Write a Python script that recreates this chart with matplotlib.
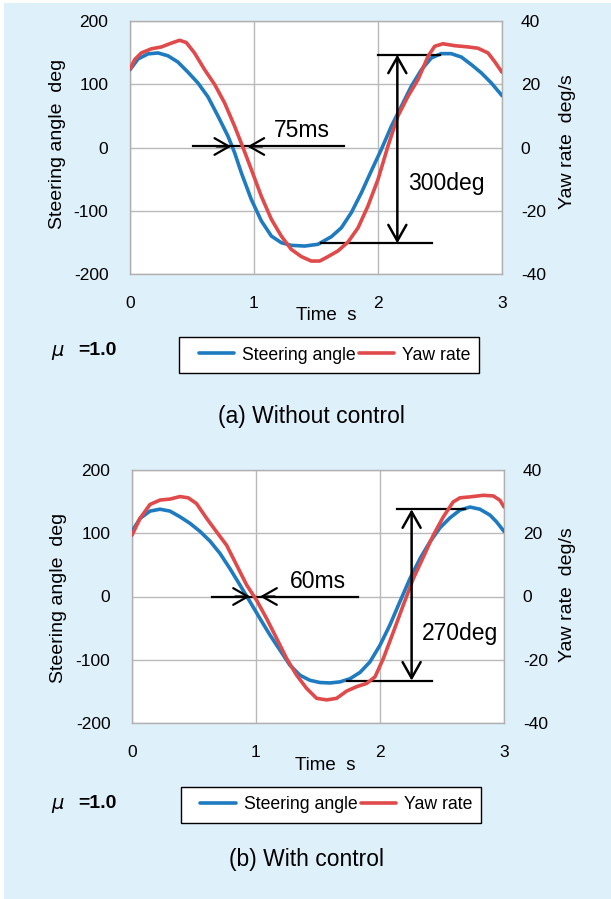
import matplotlib
matplotlib.use("Agg")
import matplotlib.pyplot as plt
from matplotlib.patches import Rectangle

plt.rcParams["font.family"] = ["Liberation Sans", "DejaVu Sans"]
plt.rcParams["axes.unicode_minus"] = False

# ---------------- data ----------------
# (a) Without control
time_a_steer = [0.0, 0.065, 0.145, 0.226, 0.306, 0.387, 0.468, 0.548, 0.629, 0.71, 0.79,
                0.844, 0.898, 0.978, 1.059, 1.14, 1.22, 1.30, 1.41, 1.516, 1.624, 1.704,
                1.785, 1.866, 1.946, 2.027, 2.108, 2.188, 2.269, 2.35, 2.43, 2.51, 2.59,
                2.672, 2.753, 2.833, 2.914, 3.0]
steer_a = [123, 140, 148, 149.5, 145, 135, 119, 102, 80, 49.5, 18,
           -8.4, -40, -82, -116, -140, -150.5, -154.7, -155.8, -153, -141, -127,
           -103, -71.6, -37, -3, 33.7, 65, 97, 123, 141.6, 148.4, 148.4,
           143, 131, 118, 102, 82]

time_a_yaw = [0.0, 0.038, 0.091, 0.172, 0.253, 0.333, 0.40, 0.454, 0.52, 0.602, 0.683,
              0.763, 0.844, 0.911, 0.978, 1.059, 1.14, 1.22, 1.30, 1.382, 1.462, 1.53,
              1.597, 1.677, 1.758, 1.839, 1.919, 2.0, 2.08, 2.16, 2.242, 2.323, 2.403,
              2.457, 2.524, 2.618, 2.726, 2.806, 2.887, 2.94, 3.0]
yaw_a = [24.8, 27.8, 29.9, 31.2, 31.8, 33.0, 33.9, 33.2, 29.9, 24.6, 19.9,
         14.1, 6.7, 0.0, -6.9, -15.4, -22.7, -28.0, -32.2, -34.5, -35.9, -35.9,
         -34.5, -32.7, -29.9, -25.4, -18.5, -10.1, 0.4, 9.9, 16.2, 21.5, 28.8,
         32.0, 32.8, 32.2, 31.8, 31.4, 29.9, 27.2, 23.8]

# (b) With control
time_b_steer = [0.0, 0.065, 0.145, 0.226, 0.306, 0.387, 0.468, 0.548, 0.629, 0.71, 0.79,
                0.871, 0.952, 1.032, 1.113, 1.194, 1.274, 1.355, 1.435, 1.516, 1.597,
                1.677, 1.758, 1.839, 1.919, 2.0, 2.08, 2.16, 2.242, 2.323, 2.403, 2.484,
                2.565, 2.645, 2.726, 2.806, 2.887, 2.94, 3.0]
steer_b = [103, 123.5, 135, 138, 135, 126, 115.6, 103, 87.6, 68, 44,
           18, -8.4, -34.8, -61, -85, -108.7, -124.5, -132.5, -136, -136.7,
           -135, -130, -120, -103.4, -77, -45, -8.4, 28.5, 60, 86.5, 108.7,
           124.5, 136.7, 141.4, 138, 128.7, 118, 103]

time_b_yaw = [0.0, 0.065, 0.145, 0.226, 0.306, 0.387, 0.454, 0.52, 0.602, 0.683, 0.763,
              0.844, 0.925, 1.005, 1.086, 1.167, 1.247, 1.328, 1.409, 1.489, 1.57, 1.65,
              1.731, 1.812, 1.892, 1.96, 2.027, 2.108, 2.188, 2.269, 2.35, 2.43, 2.511,
              2.59, 2.645, 2.726, 2.833, 2.914, 2.968, 3.0]
yaw_b = [19.4, 24.7, 29.1, 30.5, 30.8, 31.6, 31.2, 29.4, 24.7, 20.4, 16.2,
         9.9, 3.6, -1.2, -7.0, -13.3, -19.6, -24.9, -29.1, -32.2, -32.7, -32.2,
         -29.9, -28.5, -27.5, -25.4, -19.6, -11.2, -2.7, 5.7, 12.5, 19.4, 25.2,
         29.9, 31.2, 31.5, 32.0, 31.8, 30.4, 28.3]

# annotation values (time in s, steering angle in deg)
lag_a = dict(line=(0.508, 1.726), y=1.6, tips=(0.817, 0.946), text=(1.39, 26.8), label="75ms")
amp_a = dict(x=2.156, top=146.8, bottom=-151.6, top_span=(2.0, 2.497),
             bottom_span=(1.538, 2.435), text=(2.548, -57), label="300deg")
lag_b = dict(line=(0.642, 1.825), y=0.0, tips=(0.952, 1.032), text=(1.50, 24), label="60ms")
amp_b = dict(x=2.255, top=137.9, bottom=-133, top_span=(2.134, 2.685),
             bottom_span=(1.737, 2.417), text=(2.645, -59), label="270deg")

steer_ticks = [-200, -100, 0, 100, 200]
yaw_ticks = [-40, -20, 0, 20, 40]
time_ticks = [0, 1, 2, 3]

BLUE = "#1f7bc0"
RED = "#e04a4a"
BG = "#def0fa"
GRID = "#b9b9b9"

W, H = 611, 899
fig = plt.figure(figsize=(W / 100, H / 100), dpi=100, facecolor="white")
fig.patches.append(Rectangle((4 / W, 0), 1, 1 - 3 / H, transform=fig.transFigure,
                             facecolor=BG, edgecolor="none", zorder=-10))


def px(x, y):
    return x / W, 1 - y / H


def panel(rect, ts, steer, ty, yaw, lag, amp, caption, cap_xy, time_xy,
          ylab_l, ylab_r, mu_y, leg_box):
    ax = fig.add_axes(rect)
    ax.set_facecolor("white")
    ax.set_xlim(0, 3)
    ax.set_ylim(-200, 200)
    ax.set_xticks(time_ticks)
    ax.set_yticks(steer_ticks)
    ax.grid(True, color=GRID, lw=1.0)
    ax.set_axisbelow(True)
    for s in ax.spines.values():
        s.set_color("#b0b0b0")
        s.set_linewidth(1.0)
    ax.tick_params(axis="both", length=0, labelsize=12.5, colors="black")
    ax.tick_params(axis="x", pad=16)
    ax.tick_params(axis="y", pad=15.5)
    l1, = ax.plot(ts, steer, color=BLUE, lw=2.6, solid_capstyle="round",
                  solid_joinstyle="round", label="Steering angle", zorder=3)

    ax2 = ax.twinx()
    ax2.set_ylim(-40, 40)
    ax2.set_yticks(yaw_ticks)
    ax2.tick_params(axis="y", length=0, labelsize=12.5, pad=13.5)
    for s in ax2.spines.values():
        s.set_visible(False)
    l2, = ax2.plot(ty, yaw, color=RED, lw=2.6, solid_capstyle="round",
                   solid_joinstyle="round", label="Yaw rate", zorder=3)

    # time-lag marker
    kw = dict(color="black", lw=1.6)
    ax2.plot(lag["line"], [lag["y"], lag["y"]], transform=ax.transData, **kw)
    t_left, t_right = lag["tips"]
    head = "->,head_length=1.05,head_width=0.6"
    ax2.annotate("", xy=(t_left, lag["y"]), xytext=(t_left - 0.12, lag["y"]),
                 xycoords=ax.transData, textcoords=ax.transData,
                 arrowprops=dict(arrowstyle=head, mutation_scale=10, shrinkA=0, shrinkB=0, **kw))
    ax2.annotate("", xy=(t_right, lag["y"]), xytext=(t_right + 0.12, lag["y"]),
                 xycoords=ax.transData, textcoords=ax.transData,
                 arrowprops=dict(arrowstyle=head, mutation_scale=10, shrinkA=0, shrinkB=0, **kw))
    ax2.text(*lag["text"], lag["label"], transform=ax.transData, ha="center",
             va="center", fontsize=16.5)

    # amplitude marker
    ax2.plot(amp["top_span"], [amp["top"], amp["top"]], transform=ax.transData, **kw)
    ax2.plot(amp["bottom_span"], [amp["bottom"], amp["bottom"]], transform=ax.transData, **kw)
    ax2.annotate("", xy=(amp["x"], amp["top"]), xytext=(amp["x"], amp["bottom"]),
                 xycoords=ax.transData, textcoords=ax.transData,
                 arrowprops=dict(arrowstyle="<->,head_length=1.15,head_width=0.65",
                                 mutation_scale=10, shrinkA=0, shrinkB=0, color="black", lw=1.8))
    ax2.text(*amp["text"], amp["label"], transform=ax.transData, ha="center",
             va="center", fontsize=16.5)

    # axis titles
    fig.text(*px(*ylab_l), "Steering angle  deg", rotation=90, ha="center",
             va="center", fontsize=14)
    fig.text(*px(*ylab_r), "Yaw rate  deg/s", rotation=90, ha="center",
             va="center", fontsize=14)
    fig.text(*px(*time_xy), "Time  s", ha="center", va="center", fontsize=13.5)

    # friction coefficient
    fig.text(*px(57.5, mu_y), "\u03bc", ha="center", va="center", fontsize=14,
             family="DejaVu Sans", style="italic")
    fig.text(*px(78, mu_y), "=1.0", ha="left", va="center", fontsize=14,
             fontweight="bold")

    # legend: frame drawn as its own box, entries placed inside it
    x0, y0, x1, y1 = leg_box
    fig.patches.append(Rectangle(px(x0, y1), (x1 - x0) / W, (y1 - y0) / H,
                                 transform=fig.transFigure, facecolor="white",
                                 edgecolor="black", lw=1.0, zorder=5))
    leg = fig.legend([l1, l2], ["Steering angle", "Yaw rate"], ncol=2,
                     loc="center left", bbox_to_anchor=px(x0 + 19.5, (y0 + y1) / 2),
                     fontsize=12.7, frameon=False, handlelength=2.0,
                     handletextpad=0.45, columnspacing=0.2, borderpad=0,
                     borderaxespad=0)
    leg.set_zorder(10)

    fig.text(*px(*cap_xy), caption, ha="center", va="center", fontsize=16.5)


panel([130 / W, 1 - 274 / H, 372 / W, 253 / H],
      time_a_steer, steer_a, time_a_yaw, yaw_a, lag_a, amp_a,
      "(a) Without control", (311.8, 417), (326.7, 316), (58, 144), (568, 141.5),
      350.7, (179, 337, 478.6, 373))

panel([132 / W, 1 - 723 / H, 372 / W, 253 / H],
      time_b_steer, steer_b, time_b_yaw, yaw_b, lag_b, amp_b,
      "(b) With control", (306.9, 859.3), (325.5, 766), (58.5, 597.5), (568, 595),
      803.3, (180.8, 786.7, 480.5, 822.7))

fig.savefig("out.png", dpi=100, facecolor=fig.get_facecolor())
